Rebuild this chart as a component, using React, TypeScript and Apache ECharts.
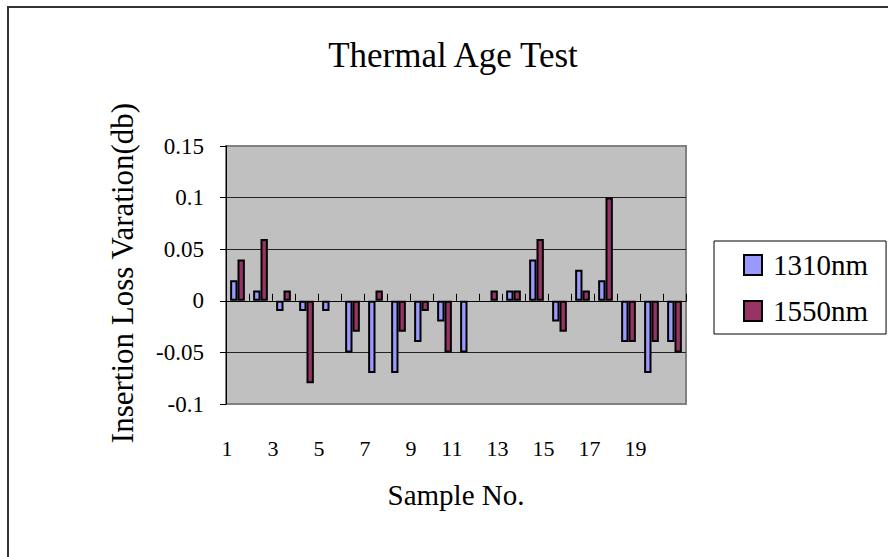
import React, { useEffect, useRef } from "react";
import * as echarts from "echarts";

const categories = ["1","2","3","4","5","6","7","8","9","10","11","12","13","14","15","16","17","18","19","20"];
const s1310 = [0.02, 0.01, -0.01, -0.01, -0.01, -0.05, -0.07, -0.07, -0.04, -0.02, -0.05, 0, 0.01, 0.04, -0.02, 0.03, 0.02, -0.04, -0.07, -0.04];
const s1550 = [0.04, 0.06, 0.01, -0.08, 0, -0.03, 0.01, -0.03, -0.01, -0.05, 0, 0.01, 0.01, 0.06, -0.03, 0.01, 0.1, -0.04, -0.04, -0.05];
const seriesNames = ["1310nm", "1550nm"];
const yMin = -0.1;
const yMax = 0.15;
const yStep = 0.05;

const FONT = "'Liberation Serif', 'Times New Roman', serif";

// zero-valued bars are drawn as empty in the reference
const toBars = (arr: number[]) => arr.map((v) => (v === 0 ? "-" : v));

export default function App() {
  const ref = useRef<HTMLDivElement>(null);
  useEffect(() => {
    if (!ref.current) return;
    const chart = echarts.init(ref.current, null, { renderer: "svg" });
    chart.setOption({
      animation: false,
      backgroundColor: "#ffffff",
      textStyle: { fontFamily: FONT, color: "#000" },
      grid: {
        left: 226,
        right: 202,
        top: 146,
        bottom: 153,
        show: true,
        backgroundColor: "#C0C0C0",
        borderColor: "#808080",
        borderWidth: 2,
      },
      legend: {
        orient: "vertical",
        left: 714,
        top: 241,
        padding: [9, 18, 8, 29],
        itemGap: 16,
        itemWidth: 18,
        itemHeight: 20,
        borderColor: "#000",
        borderWidth: 1,
        icon: "rect",
        itemStyle: { borderColor: "#000", borderWidth: 2 },
        textStyle: { fontFamily: FONT, fontSize: 29, color: "#000", lineHeight: 30, padding: [0, 0, 0, 6] },
        data: seriesNames,
      },
      xAxis: {
        type: "category",
        data: categories,
        boundaryGap: true,
        axisLine: { onZero: true, lineStyle: { color: "#000", width: 1 } },
        axisTick: { show: true, inside: true, length: 7, interval: 0, lineStyle: { color: "#000" } },
        axisLabel: {
          interval: 1,
          margin: 33,
          align: "right",
          padding: [0, 5, 0, 0],
          fontFamily: FONT,
          fontSize: 22,
          color: "#000",
        },
        splitLine: { show: false },
      },
      yAxis: {
        type: "value",
        min: yMin,
        max: yMax,
        interval: yStep,
        axisLine: { show: true, lineStyle: { color: "#000", width: 1 } },
        axisTick: { show: true, inside: false, length: 6, lineStyle: { color: "#000" } },
        axisLabel: {
          margin: 22,
          fontFamily: FONT,
          fontSize: 23,
          color: "#000",
          formatter: (v: number) => String(parseFloat(v.toFixed(2))),
        },
        splitLine: {
          show: true,
          lineStyle: { color: ["#808080", "#222", "#222", "#222", "#222", "#808080"], width: 1 },
        },
      },
      series: [
        {
          name: seriesNames[0],
          type: "bar",
          data: toBars(s1310),
          barGap: "0%",
          barCategoryGap: "36%",
          itemStyle: { color: "#9999FF", borderColor: "#000", borderWidth: 2 },
        },
        {
          name: seriesNames[1],
          type: "bar",
          data: toBars(s1550),
          barGap: "0%",
          barCategoryGap: "36%",
          itemStyle: { color: "#993366", borderColor: "#000", borderWidth: 2 },
        },
      ],
      graphic: [
        {
          type: "rect",
          shape: { x: 8, y: 7, width: 900, height: 600 },
          style: { fill: "none", stroke: "#333", lineWidth: 2 },
          silent: true,
        },
        {
          type: "text",
          x: 453,
          y: 55,
          style: { text: "Thermal Age Test", fontFamily: FONT, fontSize: 35, fill: "#000", textAlign: "center", textVerticalAlign: "middle" },
        },
        {
          type: "text",
          x: 122,
          y: 273,
          rotation: Math.PI / 2,
          style: { text: "Insertion Loss Varation(db)", fontFamily: FONT, fontSize: 31, fill: "#000", textAlign: "center", textVerticalAlign: "middle" },
        },
        {
          type: "text",
          x: 456,
          y: 495,
          style: { text: "Sample No.", fontFamily: FONT, fontSize: 29, fill: "#000", textAlign: "center", textVerticalAlign: "middle" },
        },
      ],
    });
    return () => chart.dispose();
  }, []);
  return <div ref={ref} style={{ position: "fixed", left: 0, top: 0, width: 888, height: 557 }} />;
}
